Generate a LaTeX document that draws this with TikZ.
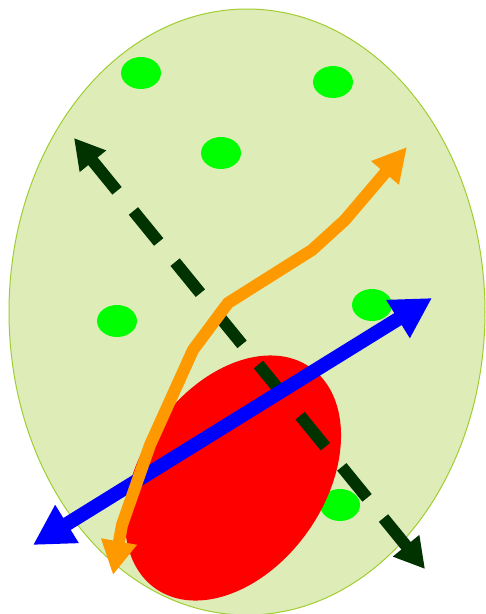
\documentclass[tikz,border=0pt]{standalone}
\usepackage{tikz}
\usetikzlibrary{arrows.meta}

\definecolor{cellfill}{RGB}{222,237,184}
\definecolor{cellline}{RGB}{160,205,50}
\definecolor{dotgreen}{RGB}{0,255,0}
\definecolor{pathgreen}{RGB}{0,51,0}
\definecolor{pathorange}{RGB}{255,153,0}

\begin{document}
\begin{tikzpicture}[x=1pt,y=-1pt]
\useasboundingbox (0,0) rectangle (486,614);
\fill[white] (0,0) rectangle (486,614);

% cell
\draw[cellline, fill=cellfill, line width=1pt] (247,312) ellipse [x radius=238, y radius=303];

% small dots
\foreach \x/\y in {141/73,333/82,221/153,117/321,372/305,340/505}
  \fill[dotgreen] (\x,\y) ellipse [x radius=20, y radius=16];

% red region
\fill[red, rotate around={55:(233,478)}] (233,478) ellipse [x radius=135, y radius=92];

% arrows
\coordinate (gA) at (74,138);
\coordinate (gB) at (425,569);
\coordinate (bA) at (33,545);
\coordinate (bB) at (432,298);
\coordinate (oA) at (113,575);
\coordinate (oB) at (407,147);

\draw[pathgreen, line width=12pt, dash pattern=on 40pt off 26pt,
  {Triangle[length=30pt,width=32pt]}-{Triangle[length=30pt,width=32pt]}] (gA) -- (gB);
\draw[blue, line width=14pt,
  {Triangle[length=40pt,width=42pt]}-{Triangle[length=40pt,width=42pt]}] (bA) -- (bB);
\draw[pathorange, line width=12pt, line join=round,
  {Triangle[length=34pt,width=34pt]}-{Triangle[length=34pt,width=34pt]}]
  (oA) -- (122,525) -- (150,445) -- (193,350) -- (228,303) -- (312,250) -- (345,220) -- (oB);
\end{tikzpicture}
\end{document}
